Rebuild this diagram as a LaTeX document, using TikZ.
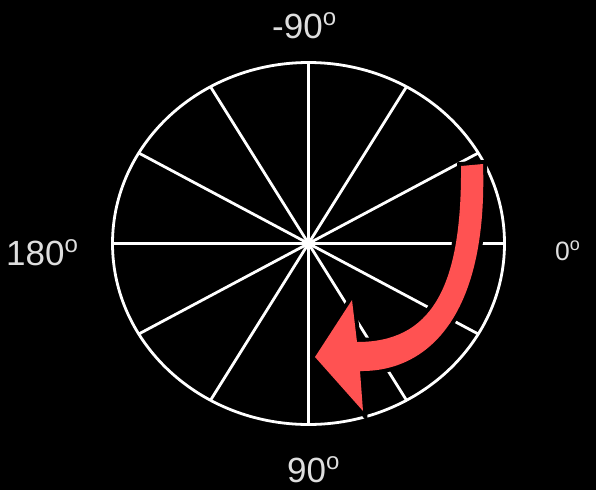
\documentclass[tikz,border=0pt]{standalone}
\usepackage{fontspec}
\setmainfont{Liberation Sans}
\usetikzlibrary{arrows.meta,positioning}
\usepackage{xcolor}
\definecolor{arrowred}{RGB}{255,82,82}
\definecolor{labelgray}{RGB}{222,222,222}
\newcommand{\dg}[2]{\raisebox{#1}{\fontsize{#2}{#2}\selectfont o}}

\begin{document}
\begin{tikzpicture}[x=1pt,y=-1pt,
  rim/.style={draw=white,line width=2.8pt},
  spoke/.style={draw=white,line width=2.8pt},
  lbl/.style={text=labelgray,inner sep=0pt,anchor=base west,font=\fontsize{35}{35}\selectfont},
  turnarrow/.style={fill=arrowred,preaction={draw=black,line width=8pt}}]
\useasboundingbox[fill=black] (0,0) rectangle (596,490);
\coordinate (c) at (308.5,243.5);
\foreach \a in {0,30,...,330}
  \draw[spoke] (c) -- ++(\a:196 and 181);
\draw[rim] (c) ellipse [x radius=196,y radius=181];
\node[lbl] (top) at (272,38) {-90\dg{13pt}{24}};
\node[lbl] (left) at (6,265) {180\dg{13pt}{24}};
\node[lbl,font=\fontsize{26.5}{26.5}\selectfont] (right) at (555,260) {0\dg{9.9pt}{18}};
\node[lbl] (bottom) at (287,482) {90\dg{13pt}{24}};
\path[turnarrow] (461,166) -- (483,164) .. controls (488,320) and (425,372) .. (360,371)
  -- (363,411) -- (315,357) -- (352,300) -- (357,342)
  .. controls (430,342) and (462,290) .. (461,166) -- cycle;
\end{tikzpicture}
\end{document}
